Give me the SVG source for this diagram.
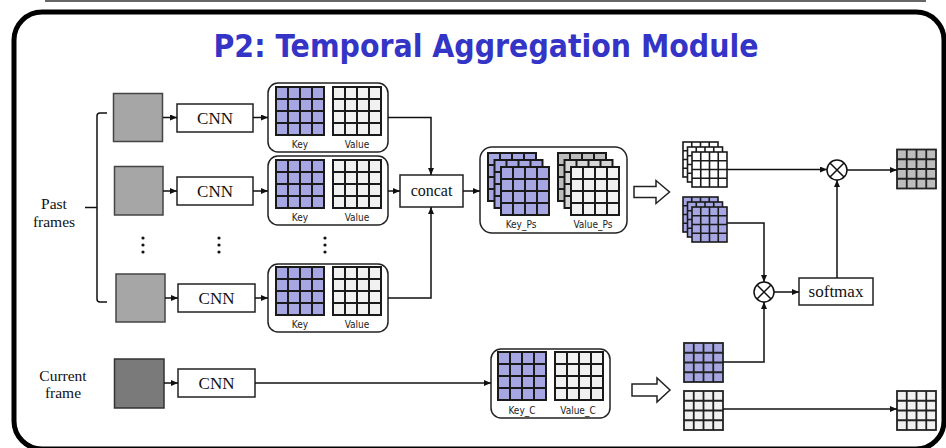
<svg xmlns="http://www.w3.org/2000/svg" xmlns:xlink="http://www.w3.org/1999/xlink" width="946" height="448" viewBox="0 0 946 448">
<style>
.serif{font-family:"Liberation Serif","Times New Roman",serif;fill:#111;text-anchor:middle}
.sans{font-family:"DejaVu Sans Condensed","DejaVu Sans","Liberation Sans",sans-serif;font-stretch:condensed;fill:#222;text-anchor:middle;font-size:10px}
.box{fill:#fff;stroke:#222;stroke-width:1.5}
.kv{fill:#fff;stroke:#222;stroke-width:1.5}
.conn{fill:none;stroke:#111;stroke-width:1.5}
.pur{fill:#a6a6e2}
.lt{fill:#f1f1f1}
.wh{fill:#fff}
.gr{fill:#bdbdbd}
.gr2{fill:#d6d6d6}
</style>
<defs>
<marker id="ah" markerUnits="userSpaceOnUse" markerWidth="8" markerHeight="8" refX="7" refY="3" orient="auto">
<path d="M0,0 L7,3 L0,6 z" fill="#111"/>
</marker>
<g id="g48">
<rect x="0" y="0" width="48" height="48" stroke="#1a1a1a" stroke-width="2"/>
<path d="M12,0V48M24,0V48M36,0V48M0,12H48M0,24H48M0,36H48" stroke="#1a1a1a" stroke-width="2" fill="none"/>
</g>
<g id="g35">
<rect x="0" y="0" width="35" height="35" stroke="#1a1a1a" stroke-width="1.6"/>
<path d="M8.75,0V35M17.5,0V35M26.25,0V35M0,8.75H35M0,17.5H35M0,26.25H35" stroke="#1a1a1a" stroke-width="1.6" fill="none"/>
</g>
<g id="g39">
<rect x="0" y="0" width="39" height="39" stroke="#222" stroke-width="1.8"/>
<path d="M9.75,0V39M19.5,0V39M29.25,0V39M0,9.75H39M0,19.5H39M0,29.25H39" stroke="#222" stroke-width="1.8" fill="none"/>
</g>
</defs>

<rect width="946" height="448" fill="#fff"/>
<line x1="45" y1="1" x2="926" y2="1" stroke="#666" stroke-width="2"/>
<rect x="14" y="12" width="930" height="437" rx="28" fill="none" stroke="#000" stroke-width="5"/>

<text x="486" y="57" font-family="'DejaVu Sans Condensed','DejaVu Sans','Liberation Sans',sans-serif" font-stretch="condensed" font-weight="bold" font-size="32" fill="#3434c6" text-anchor="middle" textLength="545" lengthAdjust="spacingAndGlyphs">P2: Temporal Aggregation Module</text>

<g id="past-label">
<path d="M107,113 H100 Q97,113 97,116 V299 Q97,302 100,302 H107" fill="none" stroke="#111" stroke-width="1.5"/>
<line x1="85" y1="207.5" x2="97" y2="207.5" stroke="#111" stroke-width="1.5"/>
<text class="serif" x="54" y="209" font-size="15.5">Past</text>
<text class="serif" x="54" y="227" font-size="15.5">frames</text>
</g>
<g id="current-label">
<text class="serif" x="63" y="381" font-size="15.5">Current</text>
<text class="serif" x="63" y="398" font-size="15.5">frame</text>
</g>

<g id="frame1"><rect x="113.5" y="93.5" width="49" height="48" fill="#a6a6a6" stroke="#444" stroke-width="1.5"/></g>
<g id="frame2"><rect x="114.5" y="166.5" width="48.5" height="48.5" fill="#a6a6a6" stroke="#444" stroke-width="1.5"/></g>
<g id="frame3"><rect x="116" y="274" width="49" height="48" fill="#a6a6a6" stroke="#444" stroke-width="1.5"/></g>
<g id="frame-current"><rect x="114.5" y="359" width="49.5" height="49" fill="#7a7a7a" stroke="#333" stroke-width="1.5"/></g>

<g id="cnn1"><rect class="box" x="177" y="104" width="76" height="28"/><text class="serif" x="215" y="124" font-size="17">CNN</text></g>
<g id="cnn2"><rect class="box" x="177" y="177" width="76" height="28"/><text class="serif" x="215" y="197" font-size="17">CNN</text></g>
<g id="cnn3"><rect class="box" x="178" y="284" width="77" height="28"/><text class="serif" x="216.5" y="304" font-size="17">CNN</text></g>
<g id="cnn-current"><rect class="box" x="178" y="369" width="77" height="28"/><text class="serif" x="216.5" y="389" font-size="17">CNN</text></g>

<g id="kv1">
<rect class="kv" x="268" y="83" width="120" height="69" rx="10"/>
<use xlink:href="#g48" href="#g48" x="276" y="87" class="pur"/>
<use xlink:href="#g48" href="#g48" x="333" y="87" class="lt"/>
<text class="sans" x="300" y="148">Key</text>
<text class="sans" x="357" y="148">Value</text>
</g>
<g id="kv2">
<rect class="kv" x="268" y="156" width="120" height="69" rx="10"/>
<use xlink:href="#g48" href="#g48" x="276" y="160" class="pur"/>
<use xlink:href="#g48" href="#g48" x="333" y="160" class="lt"/>
<text class="sans" x="300" y="221">Key</text>
<text class="sans" x="357" y="221">Value</text>
</g>
<g id="kv3">
<rect class="kv" x="268" y="264" width="120" height="68" rx="10"/>
<use xlink:href="#g48" href="#g48" x="276" y="267" class="pur"/>
<use xlink:href="#g48" href="#g48" x="333" y="267" class="lt"/>
<text class="sans" x="300" y="328">Key</text>
<text class="sans" x="357" y="328">Value</text>
</g>

<g id="dots" fill="#111">
<circle cx="143" cy="238" r="1.6"/><circle cx="143" cy="245" r="1.6"/><circle cx="143" cy="252" r="1.6"/>
<circle cx="219" cy="238" r="1.6"/><circle cx="219" cy="245" r="1.6"/><circle cx="219" cy="252" r="1.6"/>
<circle cx="325" cy="238" r="1.6"/><circle cx="325" cy="245" r="1.6"/><circle cx="325" cy="252" r="1.6"/>
</g>

<g id="concat"><rect class="box" x="400" y="175" width="63" height="32"/><text class="serif" x="431.5" y="196" font-size="16">concat</text></g>

<g id="kv-ps">
<rect class="kv" x="480" y="147" width="147" height="86" rx="12"/>
<use xlink:href="#g48" href="#g48" x="488" y="153" class="pur"/>
<use xlink:href="#g48" href="#g48" x="494.5" y="160" class="pur"/>
<use xlink:href="#g48" href="#g48" x="501" y="167" class="pur"/>
<use xlink:href="#g48" href="#g48" x="558" y="153" class="gr"/>
<use xlink:href="#g48" href="#g48" x="564.5" y="160" class="gr2"/>
<use xlink:href="#g48" href="#g48" x="571" y="167" class="lt"/>
<text class="sans" x="521" y="228">Key_Ps</text>
<text class="sans" x="593" y="228">Value_Ps</text>
</g>

<g id="kv-c">
<rect class="kv" x="491" y="349" width="119" height="69" rx="10"/>
<use xlink:href="#g48" href="#g48" x="498" y="352" class="pur"/>
<use xlink:href="#g48" href="#g48" x="555" y="352" class="lt"/>
<text class="sans" x="522" y="414">Key_C</text>
<text class="sans" x="578" y="414">Value_C</text>
</g>

<g id="block-arrow1"><path d="M634,186.5 H656 V180.5 L669.5,192 L656,203.5 V197.5 H634 Z" fill="#fff" stroke="#222" stroke-width="1.5"/></g>
<g id="block-arrow2"><path d="M632,384 H657 V378 L670,390 L657,402 V396 H632 Z" fill="#fff" stroke="#222" stroke-width="1.5"/></g>

<g id="value-stack">
<use xlink:href="#g35" href="#g35" x="683" y="142" class="wh"/>
<use xlink:href="#g35" href="#g35" x="687.5" y="147" class="wh"/>
<use xlink:href="#g35" href="#g35" x="692" y="152" class="wh"/>
</g>
<g id="key-stack">
<use xlink:href="#g35" href="#g35" x="683" y="197" class="pur"/>
<use xlink:href="#g35" href="#g35" x="687.5" y="202" class="pur"/>
<use xlink:href="#g35" href="#g35" x="692" y="207" class="pur"/>
</g>
<g id="key-c-map"><use xlink:href="#g39" href="#g39" x="684" y="343" class="pur"/></g>
<g id="value-c-map"><use xlink:href="#g39" href="#g39" x="684" y="391" class="lt"/></g>
<g id="output-top"><use xlink:href="#g39" href="#g39" x="897" y="149.5" class="gr"/></g>
<g id="output-bottom"><use xlink:href="#g39" href="#g39" x="897" y="391" class="lt"/></g>

<g id="mul-top"><circle cx="837" cy="170" r="10" fill="#fff" stroke="#111" stroke-width="1.5"/><path d="M830,163 L844,177 M844,163 L830,177" stroke="#111" stroke-width="1.5"/></g>
<g id="mul-bottom"><circle cx="764" cy="292" r="10" fill="#fff" stroke="#111" stroke-width="1.5"/><path d="M757,285 L771,299 M771,285 L757,299" stroke="#111" stroke-width="1.5"/></g>
<g id="softmax"><rect class="box" x="799" y="278" width="74" height="27"/><text class="serif" x="836" y="297" font-size="17">softmax</text></g>

<g id="connectors" class="conn">
<path class="conn" d="M163,117.5 H177" marker-end="url(#ah)"/>
<path class="conn" d="M253,117.5 H268" marker-end="url(#ah)"/>
<path class="conn" d="M163,191 H177" marker-end="url(#ah)"/>
<path class="conn" d="M253,191 H268" marker-end="url(#ah)"/>
<path class="conn" d="M165,298 H178" marker-end="url(#ah)"/>
<path class="conn" d="M255,298 H268" marker-end="url(#ah)"/>
<path class="conn" d="M164,383 H178" marker-end="url(#ah)"/>
<path class="conn" d="M388,117.5 H431 V175" marker-end="url(#ah)"/>
<path class="conn" d="M388,191 H400" marker-end="url(#ah)"/>
<path class="conn" d="M388,298 H431 V207" marker-end="url(#ah)"/>
<path class="conn" d="M463,191 H480" marker-end="url(#ah)"/>
<path class="conn" d="M255,383 H491" marker-end="url(#ah)"/>
<path class="conn" d="M727,169.5 H827" marker-end="url(#ah)"/>
<path class="conn" d="M727,223 H764 V282" marker-end="url(#ah)"/>
<path class="conn" d="M723,362 H764 V302" marker-end="url(#ah)"/>
<path class="conn" d="M774,292 H799" marker-end="url(#ah)"/>
<path class="conn" d="M837,278 V180" marker-end="url(#ah)"/>
<path class="conn" d="M847,170 H897" marker-end="url(#ah)"/>
<path class="conn" d="M723,409 H897" marker-end="url(#ah)"/>
</g>
</svg>
